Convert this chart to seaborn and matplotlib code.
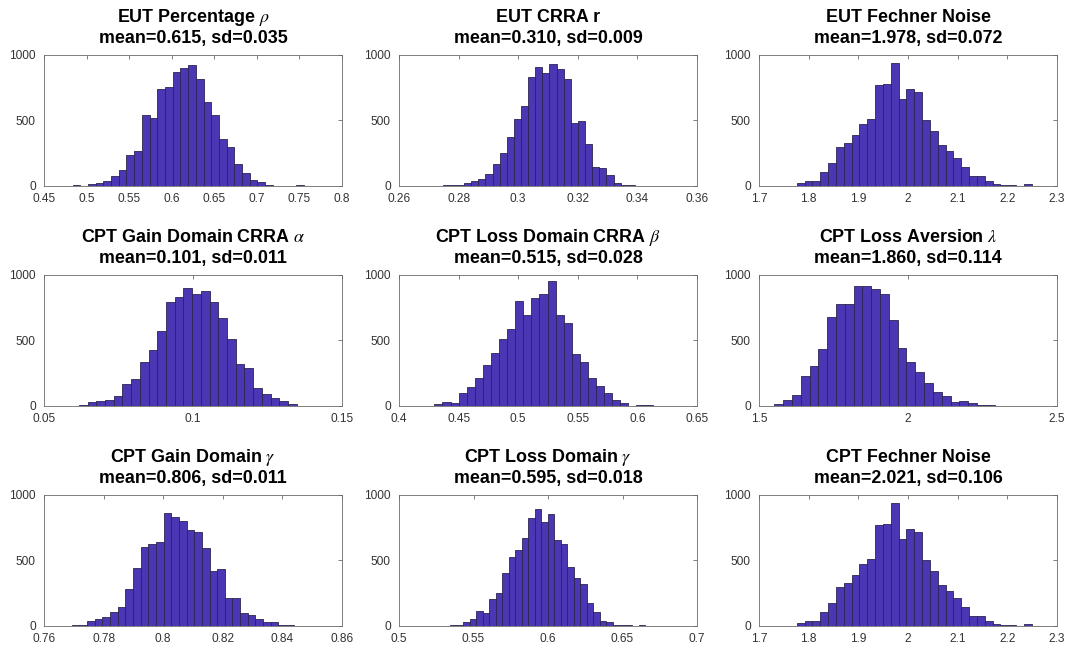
import numpy as np
import pandas as pd
import matplotlib
matplotlib.use("Agg")
import matplotlib.pyplot as plt
import seaborn as sns
from matplotlib.ticker import FixedLocator, FuncFormatter

# ---------------- data ----------------
titles = [
    "EUT Percentage $\\rho$", "EUT CRRA r", "EUT Fechner Noise",
    "CPT Gain Domain CRRA $\\alpha$", "CPT Loss Domain CRRA $\\beta$", "CPT Loss Aversion $\\lambda$",
    "CPT Gain Domain $\\gamma$", "CPT Loss Domain $\\gamma$", "CPT Fechner Noise",
]
means = [0.615, 0.310, 1.978, 0.101, 0.515, 1.860, 0.806, 0.595, 2.021]
sds = [0.035, 0.009, 0.072, 0.011, 0.028, 0.114, 0.011, 0.018, 0.106]

# data range (min, max) of each sample -> 30 equal bins
ranges = [
    (0.4835, 0.7550), (0.2747, 0.3463), (1.7760, 2.2493),
    (0.05585, 0.1436), (0.4229, 0.6263), (1.5513, 2.4386),
    (0.76675, 0.8438), (0.5343, 0.6654), (1.7760, 2.2493),
]

counts_eut_rho = [5, 3, 15, 25, 35, 78, 122, 236, 264, 543, 515, 738, 754, 870, 898,
                  921, 815, 637, 543, 355, 300, 170, 99, 48, 28, 10, 3, 3, 3, 5]
counts_eut_r = [5, 5, 10, 20, 36, 56, 91, 170, 251, 376, 508, 612, 832, 908, 858,
                926, 888, 812, 480, 492, 322, 147, 135, 84, 25, 10, 8, 3, 3, 3]
counts_eut_noise = [20, 35, 41, 104, 175, 297, 327, 391, 475, 508, 769, 779, 934, 662, 741,
                    716, 503, 421, 312, 266, 211, 145, 74, 76, 41, 12, 10, 10, 3, 15]
counts_cpt_alpha = [3, 3, 8, 33, 41, 46, 74, 168, 206, 335, 424, 571, 789, 832, 901,
                    855, 873, 789, 670, 508, 322, 292, 140, 94, 61, 41, 12, 3, 3, 2]
counts_cpt_beta = [3, 12, 28, 25, 102, 145, 211, 310, 404, 510, 586, 797, 690, 820, 855,
                   947, 690, 632, 396, 338, 213, 152, 102, 43, 25, 3, 8, 5, 3, 2]
counts_cpt_lambda = [15, 46, 81, 231, 302, 437, 680, 772, 779, 909, 914, 893, 855, 655, 442,
                     338, 256, 175, 107, 76, 30, 36, 20, 5, 8, 3, 3, 3, 3, 2]
counts_cpt_gain_gamma = [3, 8, 10, 36, 56, 69, 104, 147, 279, 444, 599, 622, 635, 863, 827,
                         802, 731, 718, 591, 419, 434, 211, 211, 99, 84, 56, 30, 30, 10, 8]
counts_cpt_loss_gamma = [8, 5, 33, 56, 117, 96, 203, 251, 404, 523, 576, 668, 820, 888, 789,
                         850, 652, 627, 452, 368, 317, 178, 107, 36, 28, 8, 8, 8, 3, 5]
counts_cpt_noise = [20, 35, 41, 104, 175, 297, 327, 391, 475, 508, 769, 779, 934, 662, 741,
                    716, 503, 421, 312, 266, 211, 145, 74, 76, 41, 12, 10, 10, 3, 15]

all_counts = [counts_eut_rho, counts_eut_r, counts_eut_noise,
              counts_cpt_alpha, counts_cpt_beta, counts_cpt_lambda,
              counts_cpt_gain_gamma, counts_cpt_loss_gamma, counts_cpt_noise]

xticks = [
    [0.45, 0.5, 0.55, 0.6, 0.65, 0.7, 0.75, 0.8],
    [0.26, 0.28, 0.3, 0.32, 0.34, 0.36],
    [1.7, 1.8, 1.9, 2.0, 2.1, 2.2, 2.3],
    [0.05, 0.1, 0.15],
    [0.4, 0.45, 0.5, 0.55, 0.6, 0.65],
    [1.5, 2.0, 2.5],
    [0.76, 0.78, 0.8, 0.82, 0.84, 0.86],
    [0.5, 0.55, 0.6, 0.65, 0.7],
    [1.7, 1.8, 1.9, 2.0, 2.1, 2.2, 2.3],
]
yticks = [0, 500, 1000]

# ---------------- style ----------------
sns.set_style("white")
plt.rcParams["font.family"] = ["Liberation Sans", "DejaVu Sans"]
plt.rcParams["mathtext.fontset"] = "stix"

bar_color = "#4B36B4"
edge_color = "#2B2550"
axis_color = "#6a6a6a"
text_color = "#333333"

fig = plt.figure(figsize=(10.73, 6.45), dpi=100)

W, H = 1073.0, 645.0
lefts = [44, 399, 759]
bottoms = [186, 406, 626]
aw, ah = 298, 131.5

for i in range(9):
    r, c = divmod(i, 3)
    ax = fig.add_axes([lefts[c] / W, 1 - bottoms[r] / H, aw / W, ah / H])
    lo, hi = ranges[i]
    cnt = np.array(all_counts[i], dtype=float)
    edges = np.linspace(lo, hi, len(cnt) + 1)
    centers = 0.5 * (edges[:-1] + edges[1:])
    df = pd.DataFrame({"value": centers, "count": cnt})
    sns.histplot(data=df, x="value", weights="count", bins=edges.tolist(), ax=ax,
                 color=bar_color, edgecolor=edge_color, linewidth=0.6, alpha=1.0)
    ax.set_xlim(xticks[i][0], xticks[i][-1])
    ax.set_ylim(0, 1000)
    ax.xaxis.set_major_locator(FixedLocator(xticks[i]))
    ax.yaxis.set_major_locator(FixedLocator(yticks))
    ax.xaxis.set_major_formatter(FuncFormatter(lambda v, p: f"{v:g}"))
    ax.yaxis.set_major_formatter(FuncFormatter(lambda v, p: f"{v:g}"))
    ax.set_xlabel("")
    ax.set_ylabel("")
    ax.tick_params(direction="in", length=3, width=0.6, colors=axis_color,
                   labelcolor=text_color, labelsize=8.6,
                   top=True, right=True)
    ax.tick_params(axis="x", pad=5)
    ax.tick_params(axis="y", pad=6)
    for s in ax.spines.values():
        s.set_visible(True)
        s.set_color(axis_color)
        s.set_linewidth(0.6)
    # two-line bold title: parameter name, then summary statistics
    ax.annotate(titles[i], xy=(0.5, 1.0), xycoords="axes fraction",
                xytext=(0, 32), textcoords="offset pixels",
                ha="center", va="baseline", fontsize=12.9, fontweight="bold",
                color="black")
    ax.annotate(f"mean={means[i]:.3f}, sd={sds[i]:.3f}", xy=(0.5, 1.0),
                xycoords="axes fraction", xytext=(0, 12), textcoords="offset pixels",
                ha="center", va="baseline", fontsize=12.9, fontweight="bold",
                color="black")

fig.savefig("out.png", dpi=100)
